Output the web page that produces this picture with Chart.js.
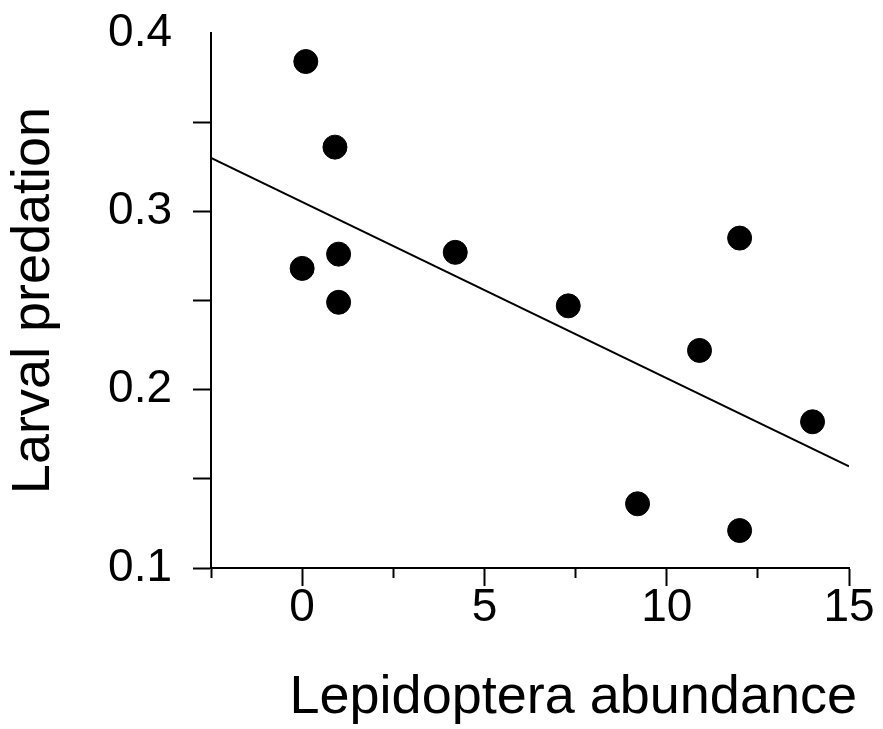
<!DOCTYPE html>
<html>
<head>
<meta charset="utf-8">
<script src="https://cdn.jsdelivr.net/npm/chart.js@4.4.1/dist/chart.umd.min.js"></script>
<style>
  html, body { margin: 0; padding: 0; background: #fff; }
  #wrap { width: 883px; height: 729px; }
</style>
</head>
<body>
<div id="wrap"><canvas id="chart"></canvas></div>
<script>
// Valores
const lepidoptera = [0.1, 0.9, 0, 1, 1, 4.2, 7.3, 12, 10.9, 14, 9.2, 12];
const predation = [0.384, 0.336, 0.268, 0.276, 0.249, 0.277, 0.247, 0.285, 0.222, 0.182, 0.136, 0.121];

// Reta de regressão (extremos)
const trendX = [-2.5, 15];
const trendY = [0.330, 0.157];

// Marcas dos eixos
const xMajorTicks = [0, 5, 10, 15];
const yLabelTicks = [0.1, 0.2, 0.3, 0.4];

const fontFamily = '"Liberation Sans", Arial, sans-serif';

// Título do eixo x desenhado à parte (fica deslocado para a direita no original)
const xTitlePlugin = {
    id: 'xTitle',
    afterDraw(chart) {
        const { ctx, chartArea } = chart;
        ctx.save();
        ctx.font = '54px ' + fontFamily;
        ctx.fillStyle = '#000';
        ctx.textAlign = 'right';
        ctx.textBaseline = 'alphabetic';
        ctx.fillText('Lepidoptera abundance', chartArea.right + 8, chartArea.bottom + 145);
        ctx.restore();
    }
};

const isMajorX = v => xMajorTicks.some(t => Math.abs(t - v) < 1e-6);
const isLabelY = v => yLabelTicks.some(t => Math.abs(t - v) < 1e-6);

new Chart(document.getElementById('chart').getContext('2d'), {
    type: 'scatter',
    data: {
        datasets: [{
            label: 'Larval predation',
            data: lepidoptera.map((x, i) => ({ x: x, y: predation[i] })),
            backgroundColor: '#000',
            borderColor: '#000',
            pointRadius: 12,
            pointHoverRadius: 12
        }, {
            type: 'line',
            label: 'Trend',
            data: trendX.map((x, i) => ({ x: x, y: trendY[i] })),
            borderColor: '#000',
            borderWidth: 2,
            pointRadius: 0,
            fill: false
        }]
    },
    options: {
        responsive: true,
        maintainAspectRatio: false,
        animation: false,
        layout: { padding: { top: 33, right: 34, left: 0, bottom: 0 } },
        plugins: {
            legend: { display: false },
            tooltip: { enabled: false }
        },
        scales: {
            x: {
                type: 'linear',
                min: -2.5,
                max: 15,
                afterFit: scale => {
                    scale.height = 161;
                    scale.paddingLeft = 0;
                    scale.paddingRight = 0;
                },
                border: { display: true, color: '#000', width: 2 },
                grid: {
                    drawOnChartArea: false,
                    drawTicks: true,
                    tickLength: 18,
                    tickWidth: 2,
                    tickColor: '#000',
                    tickBorderDash: ctx => (ctx.tick && !isMajorX(ctx.tick.value)) ? [9, 100] : []
                },
                ticks: {
                    stepSize: 2.5,
                    autoSkip: false,
                    maxRotation: 0,
                    padding: -5,
                    color: '#000',
                    font: { size: 46, family: fontFamily },
                    callback: v => isMajorX(v) ? String(v) : ''
                }
            },
            y: {
                type: 'linear',
                min: 0.1,
                max: 0.4,
                afterFit: scale => {
                    scale.width = 211;
                    scale.paddingTop = 0;
                    scale.paddingBottom = 0;
                },
                border: { display: true, color: '#000', width: 2 },
                grid: {
                    drawOnChartArea: false,
                    drawTicks: true,
                    tickLength: 18,
                    tickWidth: 2,
                    tickColor: ctx => (ctx.tick && Math.abs(ctx.tick.value - 0.4) < 1e-6) ? 'rgba(0,0,0,0)' : '#000'
                },
                ticks: {
                    stepSize: 0.05,
                    autoSkip: false,
                    padding: 21,
                    color: '#000',
                    font: { size: 46, family: fontFamily },
                    callback: v => isLabelY(v) ? v.toFixed(1) : ''
                },
                title: {
                    display: true,
                    text: 'Larval predation',
                    color: '#000',
                    font: { size: 54, family: fontFamily },
                    padding: { top: 2, bottom: 0 }
                }
            }
        }
    },
    plugins: [xTitlePlugin]
});
</script>
</body>
</html>
